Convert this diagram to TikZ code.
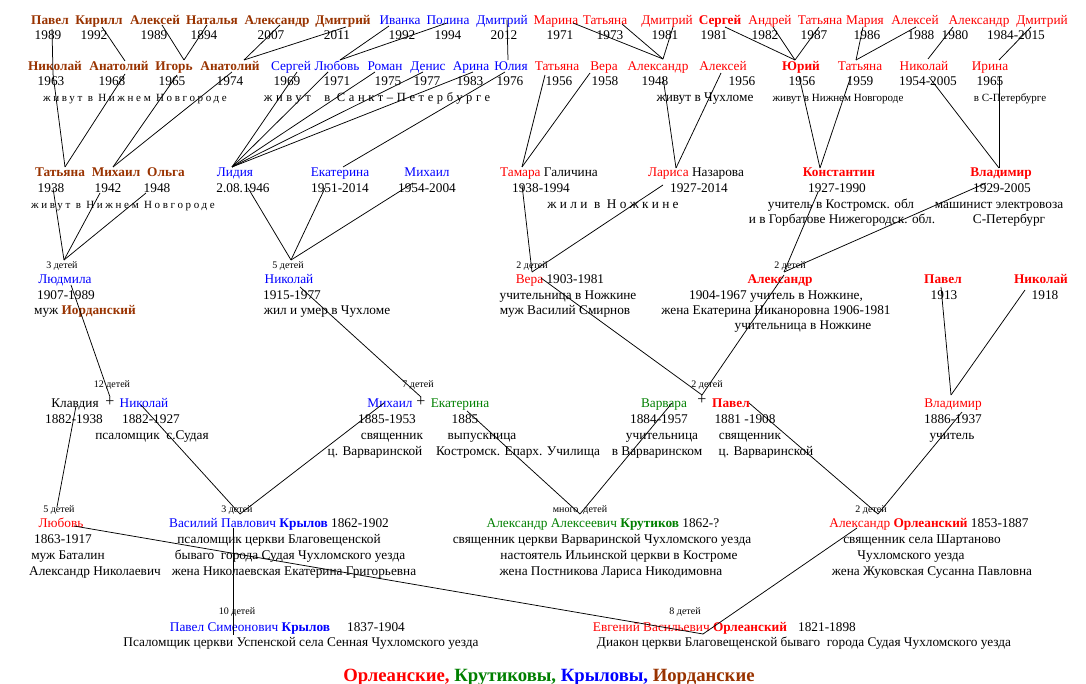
\documentclass[tikz,border=0pt]{standalone}
\usepackage{fontspec}
\setmainfont{Liberation Serif}
\newfontfamily\spA[LetterSpace=24]{Liberation Serif}
\newfontfamily\spC[LetterSpace=29]{Liberation Serif}
\newfontfamily\spD[LetterSpace=25]{Liberation Serif}
\definecolor{brn}{HTML}{993300}
\definecolor{rd}{HTML}{FF0000}
\definecolor{bl}{HTML}{0000FF}
\definecolor{gr}{HTML}{008000}
\newcommand\fsN{\fontsize{13.3}{15}\selectfont}
\newcommand\fsS{\fontsize{10}{12}\selectfont}
\newcommand\fsM{\fontsize{11}{13}\selectfont}
\newcommand\fsT{\fontsize{18.7}{22}\selectfont}
\tikzset{
  tx/.style={anchor=base, inner sep=0pt, outer sep=0pt, font=\fsN, text=black},
  nmB/.style={tx, text=brn, font=\fsN\bfseries},
  nmBl/.style={tx, text=bl},
  nmR/.style={tx, text=rd},
  nmRB/.style={tx, text=rd, font=\fsN\bfseries},
  nmG/.style={tx, text=gr},
  kids/.style={tx, font=\fsS},
  note/.style={tx, font=\fsM},
  plus/.style={anchor=base, inner sep=0pt, font=\fontsize{16}{16}\selectfont},
  ln/.style={draw=black, line width=0.75pt},
}
\begin{document}
\begin{tikzpicture}[x=1pt,y=-1pt]
\useasboundingbox (0,0) rectangle (1086,684);
\fill[white] (0,0) rectangle (1086,684);

% ---------- Row 1 ----------
\foreach \nm/\nx/\yr/\yx/\st [count=\i] in {
  Павел/50/1989/48/nmB, Кирилл/99/1992/94/nmB, Алексей/155/1989/154/nmB,
  Наталья/212/1894/204/nmB, Александр/277/2007/271/nmB, Дмитрий/343/2011/337/nmB,
  Иванка/400/1992/402/nmBl, Полина/448/1994/448/nmBl, Дмитрий/502/2012/504/nmBl,
  Марина/556/1971/560/nmR, Татьяна/605/1973/610/nmR, Дмитрий/667/1981/665/nmR,
  Сергей/720/1981/714/nmRB, Андрей/770/1982/765/nmR, Татьяна/820/1987/814/nmR,
  Мария/865/1986/867/nmR, Алексей/915/1988/921/nmR, Александр/979/1980/955/nmR,
  Дмитрий/1042/1984-2015/1016/nmR}{
  \node[\st] (r1n\i) at (\nx,24.5) {\nm};
  \node[tx] (r1y\i) at (\yx,39.5) {\yr};
}

% ---------- Row 2 ----------
\foreach \nm/\nx/\yr/\yx/\st [count=\i] in {
  Николай/55/1963/51/nmB, Анатолий/119/1968/112/nmB, Игорь/174/1965/172/nmB,
  Анатолий/230/1974/230/nmB,
  Сергей/291/1969/287/nmBl, Любовь/337/1971/337/nmBl, Роман/385/1975/388/nmBl,
  Денис/428/1977/427/nmBl, Арина/471/1983/470/nmBl, Юлия/511/1976/510/nmBl,
  Татьяна/557/1956/559/nmR, Вера/604/1958/605/nmR, Александр/658/1948/655/nmR,
  Алексей/723/1956/742/nmR, Юрий/801/1956/802/nmRB, Татьяна/860/1959/860/nmR,
  Николай/924/1954-2005/928/nmR, Ирина/990/1965/990/nmR}{
  \node[\st] (r2n\i) at (\nx,70.5) {\nm};
  \node[tx] (r2y\i) at (\yx,85.5) {\yr};
}
\node[note] (r2t1) at (135,101.5) {\spA живут в Нижнем Новгороде};
\node[tx, font=\fontsize{12.5}{14}\selectfont] (r2t2) at (377,101.5) {\spC живут\ \ в Санкт–Петербурге};
\node[tx] (r2t3) at (705,102) {живут в Чухломе};
\node[note] (r2t4) at (838,101.5) {живут в Нижнем Новгороде};
\node[note] (r2t5) at (1010,101.5) {в С-Петербурге};

% ---------- Row 3 ----------
\node[nmB] (r3n1) at (60,176.5) {Татьяна};   \node[tx] (r3y1) at (51,192.5) {1938};
\node[nmB] (r3n2) at (116,176.5) {Михаил};   \node[tx] (r3y2) at (108,192.5) {1942};
\node[nmB] (r3n3) at (166,176.5) {Ольга};    \node[tx] (r3y3) at (157,192.5) {1948};
\node[nmBl] (r3n4) at (235,176.5) {Лидия};   \node[tx] (r3y4) at (243,192.5) {2.08.1946};
\node[nmBl] (r3n5) at (340,176.5) {Екатерина}; \node[tx] (r3y5) at (340,192.5) {1951-2014};
\node[nmBl] (r3n6) at (427,176.5) {Михаил};  \node[tx] (r3y6) at (427,192.5) {1954-2004};
\node[tx] (r3n7) at (549,176.5) {{\color{rd}Тамара} Галичина}; \node[tx] (r3y7) at (541,192.5) {1938-1994};
\node[tx] (r3n8) at (696,176.5) {{\color{rd}Лариса} Назарова}; \node[tx] (r3y8) at (699,192.5) {1927-2014};
\node[nmRB] (r3n9) at (839,176.5) {Константин}; \node[tx] (r3y9) at (837,192.5) {1927-1990};
\node[nmRB] (r3n10) at (1001,176.5) {Владимир}; \node[tx] (r3y10) at (1002,192.5) {1929-2005};
\node[note] (r3t1) at (123,208.5) {\spA живут в Нижнем Новгороде};
\node[tx] (r3t2) at (613,208.5) {\spD жили в Ножкине};
\node[tx] (r3t3) at (841,208.5) {учитель в Костромск. обл};
\node[tx] (r3t4) at (999,208.5) {машинист электровоза};
\node[tx] (r3t5) at (842,223.5) {и в Горбатове Нижегородск. обл.};
\node[tx] (r3t6) at (1009,223.5) {С-Петербург};

% ---------- Row 4 ----------
\node[kids] (r4k1) at (62,268.5) {3 детей};
\node[nmBl] (r4n1) at (65,283.5) {Людмила};
\node[tx] (r4a1) at (66,299.5) {1907-1989};
\node[tx] (r4b1) at (85,314.5) {муж {\color{brn}\bfseries Иорданский}};
\node[kids] (r4k2) at (288,268.5) {5 детей};
\node[nmBl] (r4n2) at (289,283.5) {Николай};
\node[tx] (r4a2) at (292,299.5) {1915-1977};
\node[tx] (r4b2) at (327,314.5) {жил и умер в Чухломе};
\node[kids] (r4k3) at (532,268.5) {2 детей};
\node[tx] (r4n3) at (560,283.5) {{\color{rd}Вера} 1903-1981};
\node[tx] (r4a3) at (568,299.5) {учительница в Ножкине};
\node[tx] (r4b3) at (565,314.5) {муж Василий Смирнов};
\node[kids] (r4k4) at (790,268.5) {2 детей};
\node[nmRB] (r4n4) at (780,283.5) {Александр};
\node[tx] (r4a4) at (776,299.5) {1904-1967 учитель в Ножкине,};
\node[tx] (r4b4) at (776,314.5) {жена Екатерина Никаноровна 1906-1981};
\node[tx] (r4c4) at (803,329.5) {учительница в Ножкине};
\node[nmRB] (r4n5) at (943,283.5) {Павел};
\node[tx] (r4a5) at (944,299.5) {1913};
\node[nmRB] (r4n6) at (1041,283.5) {Николай};
\node[tx] (r4a6) at (1045,299.5) {1918};

% ---------- Row 5 ----------
\node[kids] (r5k1) at (112,387.5) {12 детей};
\node[tx] (r5n1) at (75,407.5) {Клавдия};
\node[plus] (r5p1) at (110,406) {+};
\node[nmBl] (r5n2) at (144,407.5) {Николай};
\node[tx] (r5a1) at (74,423.5) {1882-1938};
\node[tx] (r5a2) at (151,423.5) {1882-1927};
\node[tx] (r5b2) at (152,439.5) {псаломщик\ \ с.Судая};
\node[kids] (r5k2) at (418,387.5) {7 детей};
\node[nmBl] (r5n3) at (390,407.5) {Михаил};
\node[plus] (r5p2) at (421,406) {+};
\node[nmG] (r5n4) at (460,407.5) {Екатерина};
\node[tx] (r5a3) at (387,423.5) {1885-1953};
\node[tx] (r5a4) at (465,423.5) {1885};
\node[tx] (r5b3) at (392,439.5) {священник};
\node[tx] (r5b4) at (482,439.5) {выпускница};
\node[tx] (r5c3) at (375,455.5) {ц. Варваринской};
\node[tx] (r5c4) at (518,455.5) {Костромск. Епарх. Училища};
\node[kids] (r5k3) at (707,387.5) {2 детей};
\node[nmG] (r5n5) at (664,407.5) {Варвара};
\node[plus] (r5p3) at (702,404) {+};
\node[nmRB] (r5n6) at (731,407.5) {Павел};
\node[tx] (r5a5) at (659,423.5) {1884-1957};
\node[tx] (r5a6) at (745,423.5) {1881 -1908};
\node[tx] (r5b5) at (662,439.5) {учительница};
\node[tx] (r5b6) at (750,439.5) {священник};
\node[tx] (r5c5) at (657,455.5) {в Варваринском};
\node[tx] (r5c6) at (766,455.5) {ц. Варваринской};
\node[nmR] (r5n7) at (953,407.5) {Владимир};
\node[tx] (r5a7) at (953,423.5) {1886-1937};
\node[tx] (r5b7) at (952,439.5) {учитель};

% ---------- Row 6 ----------
\node[kids] (r6k1) at (59,512.5) {5 детей};
\node[nmR] (r6n1) at (61,527.5) {Любовь};
\node[tx] (r6a1) at (63,543.5) {1863-1917};
\node[tx] (r6b1) at (68,559.5) {муж Баталин};
\node[tx] (r6c1) at (95,575.5) {Александр Николаевич};
\node[kids] (r6k2) at (237,512.5) {3 детей};
\node[tx] (r6n2) at (279,527.5) {{\color{bl}Василий Павлович \bfseries Крылов} 1862-1902};
\node[tx] (r6a2) at (279,543.5) {псаломщик церкви Благовещенской};
\node[tx] (r6b2) at (290,559.5) {бываго\ \ города Судая Чухломского уезда};
\node[tx] (r6c2) at (294,575.5) {жена Николаевская Екатерина Григорьевна};
\node[kids] (r6k3) at (580,512.5) {много\ \ детей};
\node[tx] (r6n3) at (603,527.5) {{\color{gr}Александр Алексеевич \bfseries Крутиков} 1862-?};
\node[tx] (r6a3) at (602,543.5) {священник церкви Варваринской Чухломского уезда};
\node[tx] (r6b3) at (619,559.5) {настоятель Ильинской церкви в Костроме};
\node[tx] (r6c3) at (611,575.5) {жена Постникова Лариса Никодимовна};
\node[kids] (r6k4) at (871,512.5) {2 детей};
\node[tx] (r6n4) at (929,527.5) {{\color{rd}Александр \bfseries Орлеанский} 1853-1887};
\node[tx] (r6a4) at (922,543.5) {священник села Шартаново};
\node[tx] (r6b4) at (911,559.5) {Чухломского уезда};
\node[tx] (r6c4) at (932,575.5) {жена Жуковская Сусанна Павловна};

% ---------- Row 7 ----------
\node[kids] (r7k1) at (237,614.5) {10 детей};
\node[tx] (r7n1) at (250,631.5) {{\color{bl}Павел Симеонович \bfseries Крылов}};
\node[tx] (r7y1) at (376,631.5) {1837-1904};
\node[tx] (r7a1) at (301,646.5) {Псаломщик церкви Успенской села Сенная Чухломского уезда};
\node[kids] (r7k2) at (685,614.5) {8 детей};
\node[tx] (r7n2) at (690,631.5) {{\color{rd}Евгений Васильевич \bfseries Орлеанский}};
\node[tx] (r7y2) at (827,631.5) {1821-1898};
\node[tx] (r7a2) at (804,646.5) {Диакон церкви Благовещенской бываго\ \ города Судая Чухломского уезда};

% ---------- Title ----------
\node[tx, font=\fsT\bfseries] (title) at (549,681) {{\color{rd}Орлеанские,} {\color{gr}Крутиковы,} {\color{bl}Крыловы,} {\color{brn}Иорданские}};

% ---------- connector end points ----------
\foreach \c/\x/\y in {1/52/29, 2/102/27, 3/162/25, 4/207/25, 5/280/25, 6/346/27,
  7/389/26, 8/447/23, 9/507/20, 10/573/23, 11/622/24, 12/673/27, 13/725/27,
  14/773/27, 15/819/27, 16/863/27, 17/916/27, 18/953/27, 19/1031/27}
  \coordinate (b1-\c) at (\x,\y);
\coordinate (t2-1) at (53,74);
\coordinate (t2-2) at (125,61);
\coordinate (t2-3) at (184,60);
\coordinate (t2-4) at (244,60);
\coordinate (t2-6) at (340,60);
\coordinate (t2-10) at (508,60);
\coordinate (t2-13) at (663,59);
\coordinate (t2-15) at (795,60);
\coordinate (t2-16) at (856,60);
\coordinate (t2-17) at (928,59);
\coordinate (t2-18) at (999,60);
\foreach \c/\x/\y in {1/53/74, 2/125/74, 3/177/75, 4/232/72, 5/297/72, 6/328/72,
  7/375/72, 8/423/72, 9/473/72, 10/505/72, 11/545/75, 12/590/73, 13/663/77,
  14/721/73, 15/799/76, 16/851/76, 17/929/77, 18/999/77}
  \coordinate (b2-\c) at (\x,\y);
\coordinate (t3-1) at (65,167);
\coordinate (t3-2) at (113,167);
\coordinate (t3-4) at (232,167);
\coordinate (t3-5) at (343,167);
\coordinate (t3-7) at (522,167);
\coordinate (t3-8) at (676,168);
\coordinate (t3-9) at (820,168);
\coordinate (t3-10) at (999,168);
\foreach \c/\x/\y in {1/53/188, 2/100/193, 3/146/193, 4/248/188, 5/325/188,
  6/413/183, 7/522/185, 8/663/185, 9/818/192, 10/986/183}
  \coordinate (b3-\c) at (\x,\y);
\coordinate (t4-1) at (64,260);
\coordinate (t4-2) at (291,260);
\coordinate (t4-3) at (532,272);
\coordinate (t4-4) at (784,272);
\foreach \c/\x/\y in {1/71/285, 2/300/287, 3/541/278, 4/784/275, 5/941/287, 6/1025/290}
  \coordinate (b4-\c) at (\x,\y);
\coordinate (t5-1) at (110,397);
\coordinate (t5-2) at (421,397);
\coordinate (t5-3) at (702,395);
\coordinate (t5-4) at (951,395);
\foreach \c/\x/\y in {1/76/406, 2/141/405, 3/384/403, 4/467/411, 5/672/403, 6/749/403, 7/962/412}
  \coordinate (b5-\c) at (\x,\y);
\coordinate (t6-1) at (57,507);
\coordinate (t6-2) at (240,514);
\coordinate (t6-3) at (580,514);
\coordinate (t6-4) at (878,514);
\coordinate (b6-1) at (74,526);
\coordinate (b6-2) at (233,528);
\coordinate (b6-4) at (857,528);
\coordinate (t7-1) at (233,635);
\coordinate (t7-2) at (703,634);

% ---------- connectors ----------
\foreach \a/\b in {
  b1-1/t2-1, b1-2/t2-2, b1-3/t2-3, b1-4/t2-3, b1-5/t2-4, b1-6/t2-4,
  b1-7/t2-6, b1-8/t2-6, b1-9/t2-10, b1-10/t2-13, b1-11/t2-13, b1-12/t2-13,
  b1-13/t2-15, b1-14/t2-15, b1-15/t2-15, b1-16/t2-16, b1-17/t2-16,
  b1-18/t2-17, b1-19/t2-18,
  b2-1/t3-1, b2-2/t3-1, b2-3/t3-2, b2-4/t3-2,
  b2-5/t3-4, b2-6/t3-4, b2-7/t3-4, b2-8/t3-4, b2-9/t3-4, b2-10/t3-5,
  b2-11/t3-7, b2-12/t3-7, b2-13/t3-8, b2-14/t3-8, b2-15/t3-9, b2-16/t3-9,
  b2-17/t3-10, b2-18/t3-10,
  b3-1/t4-1, b3-2/t4-1, b3-3/t4-1, b3-4/t4-2, b3-5/t4-2, b3-6/t4-2,
  b3-7/t4-3, b3-8/t4-3, b3-9/t4-4, b3-10/t4-4,
  b4-1/t5-1, b4-2/t5-2, b4-3/t5-3, b4-4/t5-3, b4-5/t5-4, b4-6/t5-4,
  b5-1/t6-1, b5-2/t6-2, b5-3/t6-2, b5-4/t6-3, b5-5/t6-3, b5-6/t6-4, b5-7/t6-4,
  b6-1/t7-2, b6-4/t7-2, b6-2/t7-1}
  \draw[ln] (\a) -- (\b);
\end{tikzpicture}
\end{document}
